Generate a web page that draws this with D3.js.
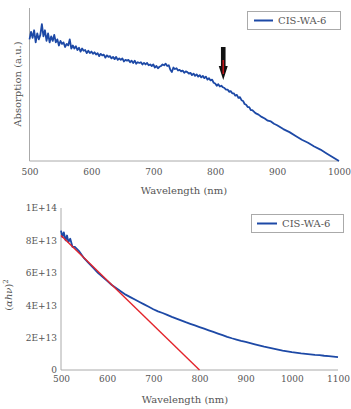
<!DOCTYPE html>
<html><head><meta charset="utf-8">
<script src="https://cdn.jsdelivr.net/npm/d3@7"></script>
<style>body{margin:0;background:#fff}svg{display:block}</style>
</head><body>
<svg id="c" width="351" height="409"></svg>
<script>
// ---- Data: top panel (absorption, a.u.) ----
const absWavelength = [500,502.5,505,507.5,510,512.5,515,517.5,520,522.5,525,527.5,530,532.5,535,537.5,540,542.5,545,547.5,550,552.5,555,557.5,560,562.5,565,567.5,570,572.5,575,577.5,580,582.5,585,587.5,590,592.5,595,597.5,
600,602.5,605,607.5,610,612.5,615,617.5,620,622.5,625,627.5,630,632.5,635,637.5,640,642.5,645,647.5,650,652.5,655,657.5,660,662.5,665,667.5,670,672.5,675,677.5,680,682.5,685,687.5,690,692.5,695,697.5,
700,702.5,705,707.5,710,712.5,715,717.5,720,722.5,725,727.5,730,732.5,735,737.5,740,742.5,745,747.5,750,752.5,755,757.5,760,762.5,765,767.5,770,772.5,775,777.5,780,782.5,785,787.5,790,792.5,795,797.5,
800,802.5,805,807.5,810,812.5,815,817.5,820,822.5,825,827.5,830,832.5,835,837.5,840,842.5,845,847.5,850,852.5,855,857.5,860,865,870,875,880,885,890,895,900,910,920,930,940,950,960,970,980,990,1000];
const absValue = [0.80,0.85,0.81,0.86,0.78,0.84,0.80,0.83,0.90,0.82,0.86,0.79,0.84,0.78,0.82,0.79,0.83,0.78,0.80,0.76,0.79,0.77,0.78,0.75,0.77,0.76,0.80,0.74,0.76,0.74,0.755,0.73,0.745,0.72,0.74,0.725,0.73,0.71,0.725,0.71,
0.72,0.705,0.715,0.70,0.71,0.69,0.705,0.695,0.70,0.68,0.695,0.685,0.69,0.675,0.685,0.67,0.685,0.665,0.675,0.665,0.675,0.655,0.665,0.66,0.665,0.65,0.66,0.645,0.66,0.64,0.65,0.645,0.65,0.635,0.645,0.635,0.645,0.63,0.635,0.625,
0.635,0.615,0.625,0.61,0.62,0.625,0.635,0.63,0.64,0.625,0.63,0.60,0.585,0.615,0.605,0.61,0.595,0.60,0.59,0.595,0.58,0.59,0.585,0.575,0.58,0.565,0.575,0.56,0.57,0.555,0.565,0.55,0.56,0.545,0.555,0.535,0.545,0.53,0.535,0.515,
0.51,0.495,0.505,0.49,0.495,0.485,0.48,0.47,0.47,0.455,0.46,0.445,0.445,0.43,0.435,0.415,0.42,0.40,0.395,0.375,0.37,0.355,0.355,0.335,0.335,0.315,0.305,0.29,0.28,0.265,0.26,0.245,0.235,0.21,0.19,0.165,0.14,0.12,0.095,0.075,0.05,0.025,0.0];
const absXTicks = [500,600,700,800,900,1000];
const arrowAt = 813;

// ---- Data: bottom panel ((αhν)^2) ----
const tWavelength = [500,503,506,510,513,516,520,525,530,540,550,560,570,580,590,600,610,620,630,640,650,660,670,680,690,700,710,720,730,740,750,760,770,780,790,800,810,820,830,840,850,860,870,880,890,900,920,940,960,980,1000,1020,1040,1050,1060,1070,1080,1090,1100];
const tValue      = [8.6,8.2,8.5,8.0,8.3,7.9,8.1,7.6,7.6,7.3,6.9,6.6,6.3,6.0,5.75,5.5,5.25,5.05,4.85,4.65,4.5,4.35,4.2,4.05,3.9,3.75,3.62,3.52,3.4,3.28,3.17,3.06,2.95,2.85,2.75,2.65,2.55,2.45,2.35,2.25,2.15,2.05,1.96,1.88,1.8,1.73,1.58,1.44,1.32,1.2,1.1,1.02,0.97,0.93,0.92,0.88,0.86,0.83,0.8].map(v=>v*1e13);
const fitWavelength = [500,800];
const fitValue = [8.3e13,0];
const tXTicks = [500,600,700,800,900,1000,1100];
const tYTicks = [0,2e13,4e13,6e13,8e13,1e14];
const tYLabels = ["0","2E+13","4E+13","6E+13","8E+13","1E+14"];
const seriesName = "CIS-WA-6";

const svg = d3.select("#c");
const FONT = "DejaVu Serif, serif";
const TXT = "#555";
const AX = "#aaa";
const BLUE = "#1d49a6";

// ---------- Top panel ----------
const x1 = d3.scaleLinear().domain([500,1000]).range([29.5,339]);
const y1 = d3.scaleLinear().domain([0,1]).range([161,9]);
const g1 = svg.append("g");
g1.append("line").attr("x1",x1(500)).attr("x2",x1(500)).attr("y1",8).attr("y2",y1(0)).attr("stroke",AX);
g1.append("line").attr("x1",x1(500)).attr("x2",x1(1000)).attr("y1",y1(0)).attr("y2",y1(0)).attr("stroke",AX);
const ax1 = g1.append("g").attr("transform",`translate(0,${y1(0)})`)
  .call(d3.axisBottom(x1).tickValues(absXTicks).tickSize(0).tickPadding(8).tickFormat(d3.format("d")));
ax1.select(".domain").remove();
ax1.selectAll("text").attr("font-family",FONT).attr("font-size",9).attr("fill",TXT);
g1.append("text").attr("x",184).attr("y",194).attr("text-anchor","middle")
  .attr("font-family",FONT).attr("font-size",10).attr("fill",TXT).text("Wavelength (nm)");
g1.append("text").attr("transform","translate(21,84) rotate(-90)").attr("text-anchor","middle")
  .attr("font-family",FONT).attr("font-size",10).attr("fill",TXT).text("Absorption (a.u.)");
const absData = absWavelength.map((w,i)=>[w,absValue[i]]);
g1.append("path").datum(absData).attr("fill","none").attr("stroke",BLUE).attr("stroke-width",1.8)
  .attr("stroke-linejoin","round")
  .attr("d",d3.line().x(d=>x1(d[0])).y(d=>y1(d[1])));
// arrow
const ax = x1(arrowAt);
g1.append("path").attr("d",`M${ax-2.3},47 L${ax+2.3},47 L${ax+2.3},66 L${ax+4.5},66 L${ax},80 L${ax-4.5},66 L${ax-2.3},66 Z`)
  .attr("fill","#111");
g1.append("path").attr("d",`M${ax},60 L${ax},74`).attr("stroke","#c0141a").attr("stroke-width",1.6);
// legend
g1.append("rect").attr("x",247.5).attr("y",11.5).attr("width",93).attr("height",18).attr("fill","#fff").attr("stroke",AX);
g1.append("line").attr("x1",254).attr("x2",273).attr("y1",20.5).attr("y2",20.5).attr("stroke",BLUE).attr("stroke-width",2);
g1.append("text").attr("x",278).attr("y",24).attr("font-family",FONT).attr("font-size",10).attr("fill",TXT).text(seriesName);

// ---------- Bottom panel ----------
const x2 = d3.scaleLinear().domain([500,1100]).range([61,338]);
const y2 = d3.scaleLinear().domain([0,1e14]).range([370,208]);
const g2 = svg.append("g");
g2.append("line").attr("x1",x2(500)).attr("x2",x2(500)).attr("y1",y2(1e14)).attr("y2",y2(0)).attr("stroke",AX);
g2.append("line").attr("x1",x2(500)).attr("x2",x2(1100)).attr("y1",y2(0)).attr("y2",y2(0)).attr("stroke",AX);
const ax2 = g2.append("g").attr("transform",`translate(0,${y2(0)})`)
  .call(d3.axisBottom(x2).tickValues(tXTicks).tickSize(0).tickPadding(6).tickFormat(d3.format("d")));
ax2.select(".domain").remove();
ax2.selectAll("text").attr("font-family",FONT).attr("font-size",9).attr("fill",TXT);
const ay2 = g2.append("g").attr("transform",`translate(${x2(500)},0)`)
  .call(d3.axisLeft(y2).tickValues(tYTicks).tickSize(0).tickPadding(4).tickFormat((d,i)=>tYLabels[i]));
ay2.select(".domain").remove();
ay2.selectAll("text").attr("font-family",FONT).attr("font-size",9).attr("fill",TXT);
g2.append("text").attr("x",185).attr("y",403).attr("text-anchor","middle")
  .attr("font-family",FONT).attr("font-size",10).attr("fill",TXT).text("Wavelength (nm)");
const yt = g2.append("text").attr("transform","translate(12,295) rotate(-90)").attr("text-anchor","middle")
  .attr("font-family",FONT).attr("font-size",10).attr("fill",TXT);
yt.append("tspan").text("(");
yt.append("tspan").attr("font-style","italic").text("αhν");
yt.append("tspan").text(")");
yt.append("tspan").attr("font-size",7).attr("dy",-4).text("2");
const tData = tWavelength.map((w,i)=>[w,tValue[i]]);
g2.append("path").datum(tData).attr("fill","none").attr("stroke",BLUE).attr("stroke-width",1.8)
  .attr("stroke-linejoin","round")
  .attr("d",d3.line().x(d=>x2(d[0])).y(d=>y2(d[1])));
const fitData = fitWavelength.map((w,i)=>[w,fitValue[i]]);
g2.append("path").datum(fitData).attr("fill","none").attr("stroke","#e3242b").attr("stroke-width",1.4)
  .attr("d",d3.line().x(d=>x2(d[0])).y(d=>y2(d[1])));
g2.append("rect").attr("x",251.5).attr("y",214.5).attr("width",92).attr("height",18).attr("fill","#fff").attr("stroke",AX);
g2.append("line").attr("x1",257).attr("x2",277).attr("y1",223.5).attr("y2",223.5).attr("stroke",BLUE).attr("stroke-width",2);
g2.append("text").attr("x",282).attr("y",227).attr("font-family",FONT).attr("font-size",10).attr("fill",TXT).text(seriesName);
</script>
</body></html>
